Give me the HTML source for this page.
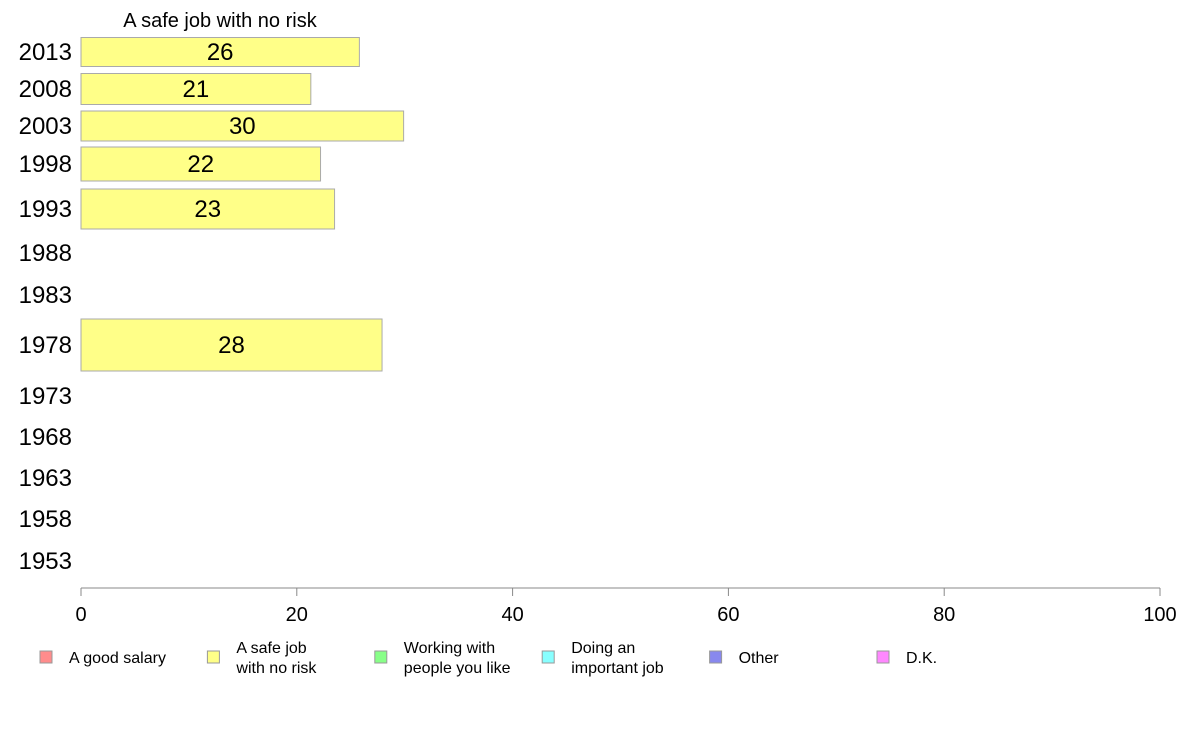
<!DOCTYPE html>
<html><head><meta charset="utf-8"><style>
body{margin:0;background:#fff;font-family:"Liberation Sans",Arial,sans-serif}
svg{display:block}
</style></head><body>
<svg width="1188" height="736" id="c"></svg>
<script>
const years=["2013","2008","2003","1998","1993","1988","1983","1978","1973","1968","1963","1958","1953"];
const values=[25.8,21.3,29.9,22.2,23.5,null,null,27.9,null,null,null,null,null];
const valueLabels=["26","21","30","22","23","","","28","","","","",""];
const ticks=[0,20,40,60,80,100];
const legendLabels=[["A good salary"],["A safe job","with no risk"],["Working with","people you like"],["Doing an","important job"],["Other"],["D.K."]];
const legendColors=["#ff8c8c","#ffff88","#88ff88","#88ffff","#8888ee","#ff88ff"];
// layout (row centers / bar heights in px)
const rowCenter=[52,89,126,164,209,253,295,345,396,437,478,519,561];
const rowBarH=[29,31,30,34,40,0,0,52,0,0,0,0,0];
const NS="http://www.w3.org/2000/svg";
const svg=document.getElementById('c');
const x0=81,x1=1160,axisY=588;
const xs=v=>x0+(v/100)*(x1-x0);
function mk(t,a,txt){const e=document.createElementNS(NS,t);for(const k in a)e.setAttribute(k,a[k]);if(txt!=null)e.textContent=txt;svg.appendChild(e);return e;}
let t=mk('text',{x:220,y:27,'font-size':20,'text-anchor':'middle',fill:'#000'},'A safe job with no risk');


years.forEach((y,i)=>{
  const l=mk('text',{x:72,y:rowCenter[i]+8,'font-size':24,'text-anchor':'end',fill:'#000'},y);
  
  
  if(values[i]!=null){
    const h=rowBarH[i];
    const r=mk('rect',{x:x0,y:rowCenter[i]-h/2,width:xs(values[i])-x0,height:h,fill:'#ffff88',stroke:'#aaaaaa','stroke-width':1});
    
    
    const vl=mk('text',{x:(x0+xs(values[i]))/2,y:rowCenter[i]+8,'font-size':24,'text-anchor':'middle',fill:'#000'},valueLabels[i]);
    
    
  }
});
const ax=mk('line',{x1:x0,x2:x1,y1:axisY,y2:axisY,stroke:'#888','stroke-width':1});


ticks.forEach(v=>{
  const tk=mk('line',{x1:xs(v),x2:xs(v),y1:axisY,y2:axisY+8,stroke:'#888','stroke-width':1});
  
  
  const tl=mk('text',{x:xs(v),y:621,'font-size':20,'text-anchor':'middle',fill:'#000'},String(v));
  
  
});
legendLabels.forEach((lines,i)=>{
  const lx=40+i*167.4;
  const sw=mk('rect',{x:lx,y:651,width:12,height:12,fill:legendColors[i],stroke:'#999','stroke-width':1});
  
  
  lines.forEach((s,j)=>{
    const yy=lines.length===1?663:653+j*20;
    const lt=mk('text',{x:lx+29,y:yy,'font-size':16,fill:'#000'},s);
    
    
  });
});
</script>
</body></html>
